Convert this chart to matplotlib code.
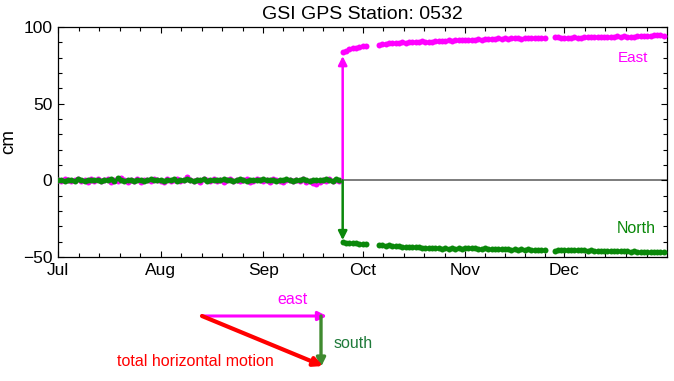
#!/usr/bin/env python3
"""GSI GPS station 0532 daily east/north offsets, Jul-Dec 2003."""

import matplotlib
matplotlib.use("Agg")
import matplotlib.dates as mdates
import matplotlib.pyplot as plt
import numpy as np
import pandas as pd
from matplotlib.patches import FancyArrowPatch

plt.rcParams["font.family"] = ["Liberation Sans", "DejaVu Sans"]

START = "2003-07-01"
END = "2003-12-31"
EVENT = "2003-09-25"
MONTH_LABELS = ["Jul", "Aug", "Sep", "Oct", "Nov", "Dec"]

# daily values (cm), Jul 1 .. Sep 24
EAST_PRE = [
    0.3, -0.5, 0.8, 0.2, -0.7, 0.5, 1.0, -0.3, 0.4, -0.9,
    0.6, -0.2, 0.9, -0.6, 0.1, 0.7, -1.0, 0.3, -0.4, 1.2,
    0.2, -0.8, 0.5, -0.3, 0.8, -1.1, 0.4, 0.0, -0.6, 0.9,
    0.3, -0.5, -1.2, 0.6, -0.3, 0.2, 0.8, -0.7, 0.4, 1.9,
    0.5, -0.4, 0.1, -0.9, 0.6, 0.3, -0.5, 0.7, -0.2, 0.4,
    -0.8, 0.2, 0.9, -0.4, 0.5, -0.6, 0.1, 0.8, -1.0, -0.3,
    0.6, 0.2, -0.5, 0.4, -0.8, 0.7, 0.3, -0.2, -1.3, 0.5,
    0.1, -0.6, 0.4, -0.3, 0.8, -0.9, -0.4, -1.6, -2.6, -0.8,
    0.3, -0.5, 0.6, -0.2, 0.4, -0.7,
]
NORTH_PRE = [
    0.2, 0.5, -0.3, 0.4, 0.1, -0.2, 0.6, 0.0, -0.4, 0.3,
    0.5, -0.1, 0.2, -0.5, 0.3, 0.1, 0.6, -0.2, 1.4, 0.3,
    -0.3, 0.2, 0.5, -0.4, 0.0, 0.4, -0.2, 0.3, 0.6, -0.1,
    0.4, 0.2, -0.3, 0.5, 0.1, 0.9, -0.2, 0.3, 0.0, 0.6,
    0.2, -0.4, 0.4, 0.1, 0.7, -0.2, 0.3, 0.5, -0.1, 0.2,
    0.6, 0.0, 0.4, -0.3, 0.3, 0.8, 0.1, -0.2, 0.5, 0.2,
    0.0, 0.4, 0.7, -0.1, 0.3, 0.1, -0.3, 0.5, 0.2, 0.6,
    0.0, -0.2, 0.4, 0.3, 0.8, 0.1, -0.3, 0.2, 0.5, 0.0,
    0.4, 0.6, 0.1, -0.2, 0.7, 0.3,
]

# daily values (cm), Sep 25 .. Dec 31 (nan = no solution)
nan = np.nan
EAST_POST = [
    83.6, 84.6, 85.4, 86.1, 86.6, 87.0, 87.5, 87.9, nan, nan,
    nan, 88.4, 88.8, 89.1, 89.3, 89.5, 89.4, 89.8, 89.9, 89.7,
    90.0, 90.2, 90.1, 90.4, 90.6, 90.3, 90.2, 90.5, 90.8, 90.6,
    90.9, 91.1, 91.3, 91.1, 91.4, 91.6, 91.3, 91.5, 91.7, 91.4,
    91.8, 92.0, 91.7, 92.1, 92.3, 92.0, 92.2, 92.5, 92.3, 92.6,
    92.4, 92.7, 92.9, 92.6, 92.4, 92.7, 92.5, 92.8, 92.6, 92.5,
    92.7, 92.6, nan, nan, 93.4, 93.2, 93.0, 93.1, 92.8, 93.0,
    93.2, 93.0, 93.1, 93.3, 93.2, 93.4, 93.3, 93.5, 93.4, 93.6,
    93.5, 93.4, 93.6, 93.8, 93.6, 93.9, 93.5, 93.2, 93.4, 93.9,
    94.2, 94.1, 94.4, 94.3, 94.6, 94.8, 94.5, 94.2,
]
NORTH_POST = [
    -40.0, -40.6, -40.9, -41.0, -41.2, -41.4, -41.5, -41.8, nan, nan,
    nan, -42.2, -42.4, -42.6, -42.5, -42.8, -43.0, -42.9, -43.2, -43.4,
    -43.3, -43.6, -43.8, -43.7, -44.0, -44.2, -44.0, -44.3, -44.1, -44.4,
    -44.5, -44.3, -44.6, -44.4, -44.5, -44.3, -44.6, -44.4, -44.2, -44.0,
    -44.3, -44.5, -44.6, -44.4, -44.7, -44.9, -44.8, -45.0, -44.8, -45.1,
    -45.0, -45.2, -45.0, -45.3, -45.1, -45.2, -45.0, -45.3, -45.2, -45.4,
    -45.3, -45.5, nan, nan, -45.8, -45.4, -45.2, -45.5, -45.3, -45.6,
    -45.4, -45.5, -45.7, -45.6, -45.8, -45.7, -45.9, -46.0, -45.8, -46.1,
    -46.0, -46.2, -46.1, -46.3, -46.2, -46.4, -46.3, -46.5, -46.4, -46.6,
    -46.5, -46.7, -46.6, -46.8, -46.6, -46.9, -46.7, -46.8,
]

# coseismic offsets shown by arrows (cm)
EAST_STEP = 81
NORTH_STEP = -39

MAGENTA = "#ff00ff"
GREEN = "#0a880a"
RED = "#ff0000"


def main() -> None:
    days = pd.date_range(START, END, freq="D")
    east = np.array(EAST_PRE + EAST_POST, dtype=float)
    north = np.array(NORTH_PRE + NORTH_POST, dtype=float)

    fig = plt.figure(figsize=(6.74, 3.81), dpi=100)
    ax = fig.add_axes([0.0861, 0.3255, 0.9036, 0.6037])

    ax.axhline(0, color="#666666", lw=1.2, zorder=1)
    ax.plot(days, east, "o", color=MAGENTA, ms=4.3, mew=0, zorder=3)
    ax.plot(days, north, "o", color=GREEN, ms=4.3, mew=0, zorder=4)

    ev = mdates.date2num(pd.Timestamp(EVENT))
    for step, col in ((EAST_STEP, MAGENTA), (NORTH_STEP, GREEN)):
        ax.annotate(
            "", xy=(ev, step), xytext=(ev, 0),
            arrowprops=dict(arrowstyle="-|>", color=col, lw=1.8,
                            mutation_scale=13, shrinkA=0, shrinkB=0),
            zorder=5,
        )

    ax.text(0.944, 0.865, "East", color=MAGENTA, fontsize=11,
            ha="center", va="center", transform=ax.transAxes)
    ax.text(0.949, 0.126, "North", color=GREEN, fontsize=11.5,
            ha="center", va="center", transform=ax.transAxes)

    x0 = pd.Timestamp(START)
    x1 = pd.Timestamp("2004-01-01")
    ax.set_xlim(x0, x1)
    ax.set_ylim(-50, 100)

    months = pd.date_range(START, "2004-01-01", freq="MS")
    ax.set_xticks(months[:-1])
    ax.set_xticklabels(MONTH_LABELS)
    minor = []
    for a, b in zip(months[:-1], months[1:]):
        for k in range(1, 5):
            minor.append(a + (b - a) * k / 5)
    ax.set_xticks(minor, minor=True)
    ax.set_yticks([-50, 0, 50, 100])
    ax.set_yticks(np.arange(-50, 101, 10), minor=True)

    ax.tick_params(which="both", direction="in", top=True, right=True,
                   width=0.8, labelsize=12.5)
    ax.tick_params(which="major", length=4.5, pad=4)
    ax.tick_params(which="minor", length=2.8)
    for s in ax.spines.values():
        s.set_linewidth(0.9)

    ax.set_ylabel("cm", fontsize=13.5, labelpad=4)
    ax.set_title("GSI GPS Station: 0532", fontsize=14, pad=6)

    # sketch of horizontal motion below the plot (figure pixels -> fraction)
    W, H = 674.0, 381.0

    def fp(x, y):
        return (x / W, 1 - y / H)

    for a, b, col, lw in (
        ((202, 316), (327, 316), MAGENTA, 2.2),
        ((321, 316), (321, 367), "#3f8a2f", 2.4),
        ((202, 316), (323, 366), RED, 3.0),
    ):
        fig.add_artist(FancyArrowPatch(
            fp(*a), fp(*b), transform=fig.transFigure,
            arrowstyle="-|>", mutation_scale=13, color=col, lw=lw,
            shrinkA=0, shrinkB=0,
        ))
    fig.text(*fp(293, 299), "east", color=MAGENTA, fontsize=11.5,
             ha="center", va="center")
    fig.text(*fp(334, 343), "south", color="#1f7a3a", fontsize=11.5,
             ha="left", va="center")
    fig.text(*fp(117, 361), "total horizontal motion", color=RED,
             fontsize=11.5, ha="left", va="center")

    fig.savefig("out.png", dpi=100)
    plt.close(fig)


if __name__ == "__main__":
    main()
